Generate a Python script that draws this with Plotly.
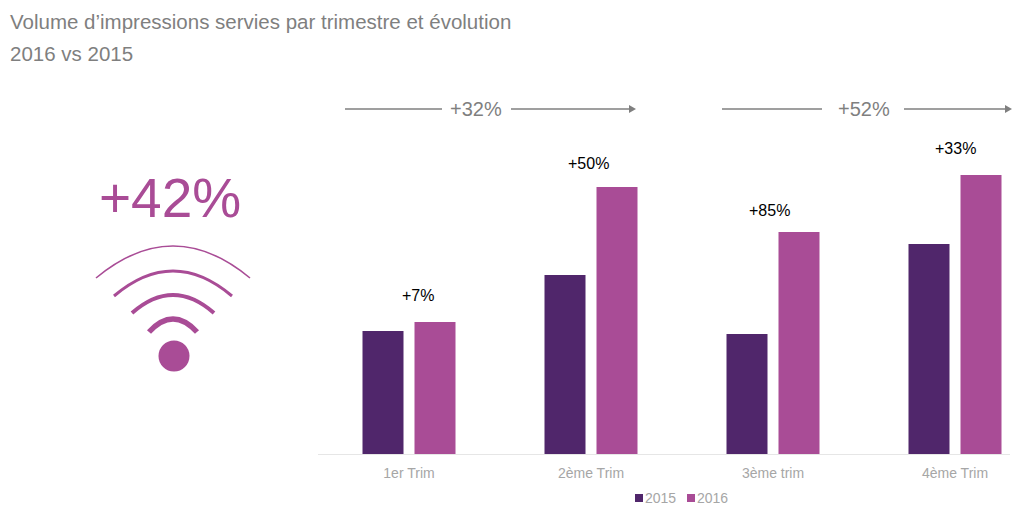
import plotly.graph_objects as go

W, H = 1024, 519
categories = ["1er Trim", "2ème Trim", "3ème trim", "4ème Trim"]
values_2015 = [123, 179, 120, 210]
values_2016 = [132, 267, 222, 279]
growth_labels = ["+7%", "+50%", "+85%", "+33%"]
range_labels = ["+32%", "+52%"]
total_label = "+42%"
C15, C16 = "#50266b", "#a94c96"
GREY = "#7f7f7f"
FONT = "Liberation Sans, Arial, sans-serif"
L, B = 318, 65


def px(x):
    return (x - L) / (W - L)


def py(y):
    return (H - B - y) / (H - B)


fig = go.Figure()
fig.add_bar(name="2015", x=categories, y=values_2015, marker_color=C15, marker_line_width=0)
fig.add_bar(name="2016", x=categories, y=values_2016, marker_color=C16, marker_line_width=0)

shapes, ann = [], []


def text(x, y, s, size, color, anchor="center"):
    ann.append(dict(x=px(x), y=py(y), xref="paper", yref="paper", text=s, showarrow=False,
                    xanchor=anchor, yanchor="middle", align=anchor, borderpad=0, borderwidth=0,
                    font=dict(family=FONT, size=size, color=color)))


def line(x0, x1, y, color, width):
    shapes.append(dict(type="line", xref="paper", yref="paper", x0=px(x0), x1=px(x1), y0=py(y), y1=py(y),
                       line=dict(color=color, width=width)))


# titles
text(10, 21, "Volume d’impressions servies par trimestre et évolution", 20.5, GREY, "left")
text(10, 53, "2016 vs 2015", 20.5, GREY, "left")

# range arrows
for (a0, a1, tx, b0, b1), lab in zip([(345, 442, 476, 511, 629), (722, 822, 864, 904, 1005)], range_labels):
    line(a0, a1, 109, GREY, 1.3)
    line(b0, b1, 109, GREY, 1.3)
    shapes.append(dict(type="path", xref="paper", yref="paper", line_width=0, fillcolor=GREY,
                       path=f"M {px(b1)} {py(105)} L {px(b1 + 7)} {py(109)} L {px(b1)} {py(113)} Z"))
    text(tx, 109, lab, 20, GREY)

# growth labels
for x, y, s in zip([418, 588, 769, 955], [295, 163, 211, 148], growth_labels):
    text(x, y, s, 16, "#000000")

# big figure and wifi icon
text(170, 198, total_label, 55, C16)
for x0, x1, y_end, y_top, w in [(96, 250, 278, 246, 1.6), (114, 232, 296, 271, 3),
                                (132, 214, 313, 295, 4), (149, 197, 332, 319, 5.5)]:
    cx, cy = (x0 + x1) / 2, 2 * y_top - y_end
    shapes.append(dict(type="path", xref="paper", yref="paper", line=dict(color=C16, width=w),
                       path=f"M {px(x0)} {py(y_end)} Q {px(cx)} {py(cy)} {px(x1)} {py(y_end)}"))
shapes.append(dict(type="circle", xref="paper", yref="paper", x0=px(158.5), x1=px(189.5), y0=py(371.5), y1=py(340.5),
                   fillcolor=C16, line_width=0))

# baseline
line(318, 1010, 454.5, "#e6e6e6", 1)

# legend
for x, col, lab in [(635, C15, "2015"), (687, C16, "2016")]:
    shapes.append(dict(type="rect", xref="paper", yref="paper", x0=px(x), x1=px(x + 8), y0=py(502), y1=py(494),
                       fillcolor=col, line_width=0))
    text(x + 10, 498, lab, 14, "#a6a6a6", "left")

fig.update_layout(
    width=W, height=H, margin=dict(l=L, r=0, t=0, b=B, pad=0), autosize=False,
    plot_bgcolor="white", paper_bgcolor="white", showlegend=False,
    barmode="group", bargap=0.4286, bargroupgap=0.2115,
    font=dict(family=FONT), shapes=shapes, annotations=ann,
    xaxis=dict(range=[-0.5, (W - L) / 182 - 0.5], showline=False, showgrid=False, ticks="", ticklen=0,
               ticklabelstandoff=9, tickfont=dict(size=14, color="#a6a6a6", family=FONT)),
    yaxis=dict(range=[0, H - B], visible=False),
)
fig.write_html("out.html", config=dict(displayModeBar=False),
               post_script="document.body.style.margin='0';document.documentElement.style.overflow='hidden';")
